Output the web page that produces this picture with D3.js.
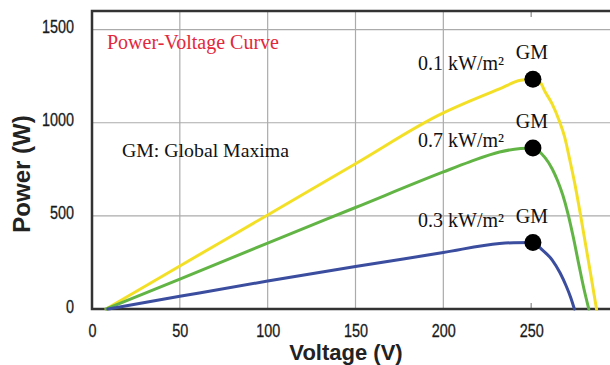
<!DOCTYPE html>
<html>
<head>
<meta charset="utf-8">
<script src="https://cdn.jsdelivr.net/npm/d3@7"></script>
<style>
  html, body { margin: 0; padding: 0; background: #fff; }
  svg { display: block; }
</style>
</head>
<body>
<svg id="chart" width="610" height="365"></svg>
<script>
// Power-voltage curves of a PV array at three irradiance levels
const irradianceLabels = ["0.1 kW/m²", "0.7 kW/m²", "0.3 kW/m²"];
const seriesColors = ["#f3e026", "#62b545", "#3a4d9f"];

const voltageHigh = [8, 50, 100, 150, 200, 215, 232, 244, 251, 255, 258, 262, 266, 269, 272, 275, 278, 281, 284, 287.2];
const powerHigh   = [0, 231, 505, 780, 1053, 1116, 1182, 1228, 1234, 1219, 1165, 1100, 1010, 925, 800, 665, 510, 345, 180, 0];

const voltageMid = [8, 50, 100, 150, 200, 215, 232, 244, 251, 258, 262, 265, 268, 271, 274, 277, 280, 282.8];
const powerMid   = [0, 160, 354, 545, 736, 790, 843, 862, 865, 811, 752, 690, 612, 510, 385, 245, 110, 0];

const voltageLow = [9, 50, 100, 150, 200, 232, 240, 251, 256.3, 262, 266.5, 270, 272.5, 274.6];
const powerLow   = [0, 68, 150, 228, 303, 352, 356, 357, 317, 263, 193, 122, 62, 0];

// Global maximum of each curve (voltage, power)
const maxVoltage = [251, 251, 251];
const maxPower   = [1234, 865, 357];

const xTicks = [0, 50, 100, 150, 200, 250];
const yTicks = [0, 500, 1000, 1500];
const xGrid = [50, 100, 150, 200];
const yGrid = [500, 1000, 1500];

const series = [
  { label: irradianceLabels[0], color: seriesColors[0], v: voltageHigh, p: powerHigh, mv: maxVoltage[0], mp: maxPower[0] },
  { label: irradianceLabels[1], color: seriesColors[1], v: voltageMid,  p: powerMid,  mv: maxVoltage[1], mp: maxPower[1] },
  { label: irradianceLabels[2], color: seriesColors[2], v: voltageLow,  p: powerLow,  mv: maxVoltage[2], mp: maxPower[2] }
];

const svg = d3.select("#chart");
const x = d3.scaleLinear().domain([0, 300]).range([92, 619]);
const y = d3.scaleLinear().domain([0, 1600]).range([309, 11]);
const plotLeft = x(0), plotBottom = y(0), plotTop = y(1600), plotRight = 612;

svg.append("rect").attr("width", 610).attr("height", 365).attr("fill", "#fff");

// grid
svg.append("g").selectAll("line").data(xGrid).join("line")
  .attr("x1", d => x(d)).attr("x2", d => x(d))
  .attr("y1", plotTop).attr("y2", plotBottom)
  .attr("stroke", "#ababab").attr("stroke-width", 1.2);
svg.append("g").selectAll("line").data(yGrid).join("line")
  .attr("x1", plotLeft).attr("x2", plotRight)
  .attr("y1", d => y(d)).attr("y2", d => y(d))
  .attr("stroke", "#ababab").attr("stroke-width", 1.2);

// small inner ticks at 250
svg.append("line").attr("x1", x(250)).attr("x2", x(250)).attr("y1", plotTop).attr("y2", plotTop + 6)
  .attr("stroke", "#888").attr("stroke-width", 1.2);
svg.append("line").attr("x1", x(250)).attr("x2", x(250)).attr("y1", plotBottom).attr("y2", plotBottom - 6)
  .attr("stroke", "#888").attr("stroke-width", 1.2);

// axis tick labels (narrow sans)
const tickFont = "'Liberation Sans', Arial, sans-serif";
const narrow = 0.8;
const xAxis = svg.append("g").attr("transform", `translate(0,${plotBottom})`)
  .call(d3.axisBottom(x).tickValues(xTicks).tickSize(0).tickFormat(d3.format("d")));
xAxis.select(".domain").remove();
xAxis.selectAll("text")
  .attr("y", 28.5).attr("dy", null)
  .attr("transform", `scale(${narrow},1)`)
  .attr("font-family", tickFont).attr("font-size", 18).attr("fill", "#1a1a1a")
  .attr("stroke", "#1a1a1a").attr("stroke-width", 0.3);

const yAxis = svg.append("g").attr("transform", `translate(${plotLeft},0)`)
  .call(d3.axisLeft(y).tickValues(yTicks).tickSize(0).tickFormat(d3.format("d")));
yAxis.select(".domain").remove();
yAxis.selectAll("text")
  .attr("x", -18 / narrow).attr("dy", null).attr("y", 3)
  .attr("transform", `scale(${narrow},1)`)
  .attr("font-family", tickFont).attr("font-size", 18).attr("fill", "#1a1a1a")
  .attr("stroke", "#1a1a1a").attr("stroke-width", 0.3);

// frame
svg.append("path")
  .attr("d", `M${plotRight},${plotTop} H${plotLeft} V${plotBottom} H${plotRight}`)
  .attr("fill", "none").attr("stroke", "#333").attr("stroke-width", 2.5);

// curves
const line = d3.line().x(d => x(d[0])).y(d => y(d[1])).curve(d3.curveMonotoneX);
svg.append("g").selectAll("path").data(series).join("path")
  .attr("d", s => line(s.v.map((v, i) => [v, s.p[i]])))
  .attr("fill", "none").attr("stroke", s => s.color).attr("stroke-width", 3)
  .attr("stroke-linejoin", "round").attr("stroke-linecap", "round");

// global maximum markers
svg.append("g").selectAll("circle").data(series).join("circle")
  .attr("cx", s => x(s.mv)).attr("cy", s => y(s.mp)).attr("r", 8.5).attr("fill", "#000");

const serif = "'Liberation Serif', 'Times New Roman', serif";
svg.append("g").selectAll("text").data(series).join("text")
  .attr("x", s => x(s.mv) - 1).attr("y", s => y(s.mp) - 20)
  .attr("text-anchor", "middle").attr("font-family", serif).attr("font-size", 20).attr("fill", "#111")
  .text("GM");

// irradiance labels, offset from each maximum marker
const labelOffsets = [-9, -1, -16];
svg.append("g").selectAll("text").data(series).join("text")
  .attr("x", 504).attr("y", (s, i) => y(s.mp) + labelOffsets[i])
  .attr("text-anchor", "end").attr("font-family", serif).attr("font-size", 20).attr("fill", "#111")
  .text(s => s.label);

// title and note
svg.append("text").attr("x", 107).attr("y", 49)
  .attr("font-family", serif).attr("font-size", 20).attr("fill", "#e3283c")
  .text("Power-Voltage Curve");
svg.append("text").attr("x", 122).attr("y", 157)
  .attr("font-family", serif).attr("font-size", 19.8).attr("fill", "#111")
  .text("GM: Global Maxima");

// axis titles
svg.append("text").attr("x", 346).attr("y", 360).attr("text-anchor", "middle")
  .attr("font-family", tickFont).attr("font-weight", "bold").attr("font-size", 22).attr("fill", "#222")
  .text("Voltage (V)");
svg.append("text").attr("transform", "translate(30,174) rotate(-90)").attr("text-anchor", "middle")
  .attr("font-family", tickFont).attr("font-weight", "bold").attr("font-size", 24).attr("fill", "#222")
  .text("Power (W)");
</script>
</body>
</html>
